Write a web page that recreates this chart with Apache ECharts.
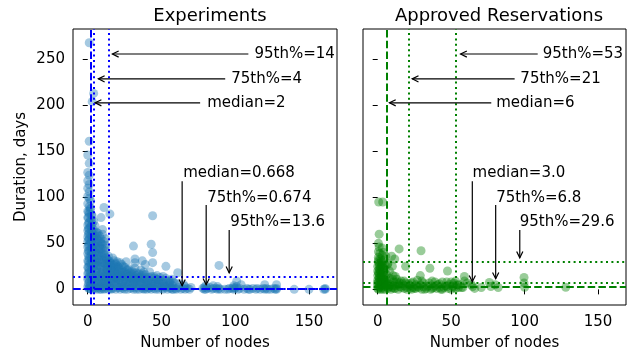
<!DOCTYPE html>
<html>
<head>
<meta charset="utf-8">
<script src="https://cdn.jsdelivr.net/npm/echarts@6/dist/echarts.min.js"></script>
<style>
  html, body { margin: 0; padding: 0; background: #fff; }
  #chart { width: 635px; height: 356px; }
</style>
</head>
<body>
<div id="chart"></div>
<script>
// values
const titles = ["Experiments", "Approved Reservations"];
const xTicks = [0, 50, 100, 150];
const yTicks = [0, 50, 100, 150, 200, 250];

// [nodes, days]
const expPoints = [
  [1,268],[4,213],[3,204],[1,161],[0,146],[1,137],[0,127],[1,124],[0,118],[1,114],[0,110],[1,106],[0,101],[1,99],
  [2,96],[0,93],[1,90],[2,88],[0,85],[1,82],[3,80],[0,78],[2,76],[4,74],[1,73],[3,71],[0,70],[5,69],[2,68],[1,66],
  [4,65],[0,64],[3,63],[6,62],[1,61],[2,59],[5,58],[0,57],[4,56],[1,55],[3,54],[7,53],[0,52],[2,51],[5,50],[1,49],
  [4,48],[8,47],[0,46],[3,45],[6,44],[2,43],[1,42],[5,41],[9,40],[0,39],[3,38],[7,37],[2,36],[4,35],[1,34],[6,33],
  [10,32],[0,31],[3,31],[8,30],[5,29],[2,28],[11,28],[1,27],[7,26],[4,25],[13,25],[0,24],[9,24],[3,23],[6,22],[15,22],
  [1,21],[11,21],[5,20],[8,19],[17,19],[2,18],[13,18],[0,17],[19,17],[6,16],[10,16],[21,16],[3,15],[15,15],[23,15],
  [1,14],[8,14],[12,13],[18,13],[25,13],[5,12],[20,12],[28,12],[0,11],[10,11],[16,11],[31,11],[3,10],[14,10],[22,10],
  [26,10],[7,9],[19,9],[33,9],[1,8],[11,8],[24,8],[29,8],[36,8],[5,7],[16,7],[21,7],[38,7],[9,6],[27,6],[31,6],[41,6],
  [2,5],[13,5],[18,5],[35,5],[44,5],[6,4],[23,4],[30,4],[47,4],[0,3],[11,3],[15,3],[26,3],[39,3],[50,3],[4,2],[8,2],
  [20,2],[33,2],[42,2],[53,2],[1,1],[12,1],[17,1],[24,1],[29,1],[37,1],[45,1],[56,1],[3,0],[6,0],[9,0],[14,0],[19,0],
  [22,0],[27,0],[31,0],[35,0],[40,0],[43,0],[48,0],[51,0],[54,0],[58,0],[60,0],[63,0],[66,0],[69,0],
  [6,55],[8,58],[10,60],[11,52],[9,50],[12,45],[7,45],[10,44],[11,38],[12,35],[8,36],[6,38],[9,55],[7,61],[10,49],
  [11,89],[15,82],[9,78],[10,65],[12,55],[12,48],[12,42],
  [13,33],[15,30],[17,34],[19,28],[14,26],[16,24],[18,22],[20,30],[14,36],[16,28],[18,31],
  [22,29],[24,25],[26,30],[28,22],[21,24],[25,19],[27,17],[23,21],[29,18],
  [30,20],[33,18],[36,21],[39,16],[42,19],[31,14],[34,13],[37,12],[40,11],[43,14],[32,23],[38,19],
  [45,12],[48,10],[51,14],[54,9],[57,11],[59,7],[46,8],[49,6],[52,5],[55,4],[47,15],
  [44,80],[31,47],[43,49],[44,40],[32,33],[32,29],[37,31],[39,27],[44,29],[53,25],[61,18],[89,26],[101,9],[99,4],
  [62,6],[65,5],[80,4],[85,4],[88,3],[104,5],[120,5],[128,5],[66,3],[70,2],[58,8],
  [79,0],[81,1],[84,0],[87,1],[90,0],[93,0],[96,1],[99,0],[100,1],[102,0],[106,0],[108,1],[110,0],[114,0],[115,1],
  [117,0],[120,0],[121,1],[124,0],[127,0],[128,1],[140,0],[150,0],[160,0],[161,0],[161,1],[79,2],[89,1],[99,2],
  // denser core
  [0.5,84],[2.5,81],[0.4,78],[2.7,75],[0.6,72],[2.3,69],[0.5,66],[2.6,63],[0.4,60],[2.5,57],[0.6,54],[2.4,51],
  [0.5,48],[2.6,45],[0.4,42],[2.5,39],[0.6,36],[2.4,33],[0.5,30],[2.6,27],[0.4,24],[2.5,21],[0.6,18],[2.4,15],
  [0.5,12],[2.6,9],[0.4,6],[2.5,3],[0.6,1],[1.5,87],[3.5,58],[3.6,44],[3.4,29],[3.5,12],[1.6,4],
  [4.5,62],[6.5,58],[8.5,52],[5.5,47],[7.5,41],[9.5,36],[4.5,33],[6.5,29],[8.5,25],[10.5,22],[5.5,19],[7.5,15],
  [9.5,12],[11.5,9],[4.5,9],[6.5,6],[8.5,3],[10.5,1],[5.5,2],[7.5,11],[9.5,18],[11.5,14],[4.5,40],[6.5,50],
  [8.5,44],[10.5,39],[11.5,33],[7.5,32],[5.5,26],[9.5,29],[10.5,6],[11.5,3],
  [13.5,29],[15.5,26],[17.5,23],[19.5,20],[13.5,21],[15.5,18],[17.5,15],[19.5,12],[21.5,10],[13.5,13],[15.5,9],
  [17.5,7],[19.5,4],[21.5,2],[13.5,6],[15.5,1],[17.5,11],[20.5,25],[22.5,19],[24.5,15],[26.5,12],[23.5,6],[25.5,8],
  [27.5,4],[22.5,13],[24.5,3],[26.5,21],[28.5,9],[14.5,31],[18.5,27],[12.5,27],[12.5,18],[12.5,7],
  [30.5,16],[32.5,12],[34.5,9],[36.5,15],[38.5,11],[40.5,8],[42.5,4],[31.5,6],[33.5,4],[35.5,13],[37.5,3],
  [39.5,6],[41.5,13],[43.5,9],[30.5,2],[34.5,17],[38.5,1],[41.5,1],
  [45.5,6],[47.5,2],[49.5,9],[51.5,7],[53.5,3],[55.5,7],[57.5,4],[46.5,11],[50.5,1],[56.5,2],[59.5,1],[61.5,2],
  [64.5,1],[67.5,1],[2,0],[5,1],[8,0],[11,0],[16,0],[25,0],[33,0],[38,0],[46,0],[57,0],
  [78,1],[80,0],[83,2],[85,1],[88,0],[95,0],[98,1],[101,3],[103,1],[109,0],[112,1],[119,1],[122,0],[126,1],[128,0],
  [13,31],[15,28],[17,26],[19,24],[21,22],[23,27],[25,24],[27,21],[29,15],[14,17],[16,15],[18,18],[20,16],[22,15],
  [24,18],[26,16],[28,14],[30,12],[13,23],[16,20],[19,14],[21,19],
  [31,18],[33,15],[35,11],[37,17],[39,13],[41,10],[43,7],[45,14],[47,11],[49,13],[51,10],[53,12],[55,9],[32,9],
  [36,6],[40,4],[44,3],[48,7],[52,3],[56,8]
];

const resPoints = [
  [0.7,95],[3.4,95],[1,60],[0.5,50],[1,46],[0.5,41],[1.5,39],[3,37],[0.5,35],[2,33],[4,31],[0.5,30],[1,28],[3,27],
  [6.6,27],[0,25],[2,24],[4,23],[1,22],[5,21],[0,20],[2,19],[3.5,18],[1,17],[6,16],[0,15],[2,14],[4,13],[1,12],[6,11],
  [0,10],[3,10],[1.5,9],[5,8],[0,7],[2.5,6],[4,5],[0,4],[1.5,3],[3,2],[0,1],[2,0],[5,0],[7,1],[8,3],[9,0],[10,2],
  [5.5,36],[7,28],[11.6,33],[10,25],[8,20],[10.5,15],[12,14],[3,45],[4,40],[2,29],[5,26],
  [7,2],[9,5],[11,1],[12,4],[14,0],[15,3],[17,6],[18,1],[20,2],[22,4],[23,0],[25,1],[26,5],[28,2],[30,0],[31,3],
  [33,1],[35,4],[36,0],[38,2],[40,1],[41,5],[43,0],[45,2],[46,4],[48,1],[50,0],[51,3],[53,1],[55,2],[54,5],[52,7],
  [44,8],[37,9],[27,10],[16,9],[13,8],[19,7],[10,11],[24,8],[6,6],[3,4],[1,2],
  [14.6,44],[29.5,42],[9.5,36],[19,25],[35.5,23],[47.5,20],[29,15],[50,8],[59,14],[59,9],[64.6,3],[63.7,5],[61,7],
  [70.5,2],[76,7.5],[77,3],[80,5],[82,2],[99.6,13],[99.6,7],[100,2.3],[128,2.2],[66,1],[58,2],
  // denser core
  [0.5,32],[2.5,31],[1,26],[3,22],[0.5,18],[2.5,16],[4.5,15],[1,13],[3,11],[5,10],[0.5,8],[2,7],[4,7],[6,4],
  [1,5],[3,6],[5,3],[0.5,0],[3.5,0],[2.5,12],[4,19],[1.5,21],[3,25],
  [8,6],[10,4],[12,1],[14,5],[16,2],[18,4],[20,0],[21,6],[24,2],[27,3],[29,5],[32,0],[34,3],[37,1],[39,4],
  [42,2],[44,0],[47,3],[49,5],[52,2],[11,8],[15,7],[23,7],[31,7],[39,8],[8,12],[13,11],[18,9],[22,1],[26,1],
  [30,9],[35,7],[42,6],[47,8],[53,9],[56,5],[57,2]
];

// reference lines: dashed = median, dotted = 75th / 95th percentile
const expVLines = { dashed: [2], dotted: [4, 14] };
const expHLines = { dashed: [0.668], dotted: [0.674, 13.6] };
const resVLines = { dashed: [6], dotted: [21, 53] };
const resHLines = { dashed: [3.0], dotted: [6.8, 29.6] };

// annotations: text, text anchor [x, y] (left, middle), arrow [tailX, tailY, tipX, tipY]
const expNoteText = ["95th%=14", "75th%=4", "median=2", "median=0.668", "75th%=0.674", "95th%=13.6"];
const expNoteAt = [[113, 255.8], [97.3, 228.8], [81, 202.8], [64.7, 126.3], [81, 99.2], [96.7, 73.3]];
const expArrows = [
  [108.9, 255.8, 16.7, 255.8], [93.2, 228.8, 7.2, 228.8], [76.2, 202.8, 5, 202.8],
  [64, 117.6, 64, 4], [80.3, 91.7, 80.3, 5.1], [95.9, 64.6, 95.9, 18]
];
const resNoteText = ["95th%=53", "75th%=21", "median=6", "median=3.0", "75th%=6.8", "95th%=29.6"];
const resNoteAt = [[112.3, 255.8], [97.1, 228.8], [80.7, 202.8], [64.6, 126.3], [80.7, 99.2], [96.7, 73.3]];
const resArrows = [
  [108.9, 255.8, 56.4, 255.8], [93.2, 228.8, 23.5, 228.8], [77.3, 202.8, 8, 202.8],
  [64.4, 117.6, 64.4, 8.3], [80.3, 91.7, 80.3, 11.6], [96.7, 64.6, 96.7, 34.3]
];

const FONT = "DejaVu Sans";
const DASHED = [7.5, 3.2];
const DOTTED = [2, 3.4];

function refLines(v, h, color) {
  let data = [];
  v.dashed.forEach(x => data.push({ xAxis: x, lineStyle: { type: DASHED } }));
  v.dotted.forEach(x => data.push({ xAxis: x, lineStyle: { type: DOTTED } }));
  h.dashed.forEach(y => data.push({ yAxis: y, lineStyle: { type: DASHED } }));
  h.dotted.forEach(y => data.push({ yAxis: y, lineStyle: { type: DOTTED } }));
  return {
    silent: true,
    symbol: ["none", "none"],
    label: { show: false },
    lineStyle: { color: color, width: 2, opacity: 1 },
    emphasis: { disabled: true },
    animation: false,
    data: data
  };
}

function arrowSeries(idx, arrows) {
  return {
    type: "custom",
    xAxisIndex: idx, yAxisIndex: idx,
    z: 10,
    silent: true,
    data: arrows,
    renderItem: function (params, api) {
      let a = api.coord([api.value(0), api.value(1)]);
      let b = api.coord([api.value(2), api.value(3)]);
      let ang = Math.atan2(b[1] - a[1], b[0] - a[0]);
      let L = 7, W = 0.46;
      let p1 = [b[0] - L * Math.cos(ang - W), b[1] - L * Math.sin(ang - W)];
      let p2 = [b[0] - L * Math.cos(ang + W), b[1] - L * Math.sin(ang + W)];
      return {
        type: "group",
        children: [
          { type: "line", shape: { x1: a[0], y1: a[1], x2: b[0], y2: b[1] }, style: { stroke: "#000", lineWidth: 1.2 } },
          { type: "polyline", shape: { points: [p1, b, p2] }, style: { stroke: "#000", lineWidth: 1.2, fill: null } }
        ]
      };
    }
  };
}

function noteSeries(idx, at, texts) {
  return {
    type: "custom",
    xAxisIndex: idx, yAxisIndex: idx,
    z: 10,
    silent: true,
    clip: false,
    data: at,
    renderItem: function (params, api) {
      let p = api.coord([api.value(0), api.value(1)]);
      return {
        type: "text",
        x: p[0], y: p[1],
        style: {
          text: texts[params.dataIndex],
          fill: "#000",
          font: "15px " + FONT,
          align: "left",
          verticalAlign: "middle"
        }
      };
    }
  };
}

function xAx(idx) {
  return {
    gridIndex: idx, type: "value", min: -10, max: 169,
    name: "Number of nodes", nameLocation: "middle", nameGap: 31,
    nameTextStyle: { fontSize: 15, color: "#000", fontFamily: FONT },
    axisLine: { show: false },
    splitLine: { show: false },
    axisTick: { show: true, length: 5, lineStyle: { color: "#000", width: 1 }, customValues: xTicks },
    axisLabel: { fontSize: 15, color: "#000", fontFamily: FONT, margin: 10, customValues: xTicks }
  };
}

function yAx(idx, showLabels) {
  let ax = {
    gridIndex: idx, type: "value", min: -17, max: 283,
    axisLine: { show: false },
    splitLine: { show: false },
    axisTick: { show: true, length: 5, lineStyle: { color: "#000", width: 1 }, customValues: yTicks },
    axisLabel: { show: showLabels, fontSize: 15, color: "#000", fontFamily: FONT, margin: 8, customValues: yTicks }
  };
  if (showLabels) {
    ax.name = "Duration, days";
    ax.nameLocation = "middle";
    ax.nameGap = 44;
    ax.nameTextStyle = { fontSize: 15, color: "#000", fontFamily: FONT };
  }
  return ax;
}

let myChart = echarts.init(document.getElementById("chart"));
let option = {
  animation: false,
  backgroundColor: "#fff",
  textStyle: { fontFamily: FONT },
  title: [
    { text: titles[0], left: 205, top: 2, textAlign: "center", textStyle: { fontSize: 18, fontWeight: "normal", color: "#000", fontFamily: FONT } },
    { text: titles[1], left: 494, top: 2, textAlign: "center", textStyle: { fontSize: 18, fontWeight: "normal", color: "#000", fontFamily: FONT } }
  ],
  grid: [
    { left: 73, top: 29, width: 264, height: 277, show: true, borderColor: "#000", borderWidth: 1 },
    { left: 363, top: 29, width: 263, height: 277, show: true, borderColor: "#000", borderWidth: 1 }
  ],
  xAxis: [xAx(0), xAx(1)],
  yAxis: [yAx(0, true), yAx(1, false)],
  series: [
    {
      name: titles[0], type: "scatter", xAxisIndex: 0, yAxisIndex: 0,
      symbolSize: 9, data: expPoints,
      itemStyle: { color: "#1f77b4", opacity: 0.4 }
    },
    {
      name: titles[1], type: "scatter", xAxisIndex: 1, yAxisIndex: 1,
      symbolSize: 9, data: resPoints,
      itemStyle: { color: "#008000", opacity: 0.4 }
    },
    { type: "line", xAxisIndex: 0, yAxisIndex: 0, data: [], z: 5, markLine: refLines(expVLines, expHLines, "#0000ff") },
    { type: "line", xAxisIndex: 1, yAxisIndex: 1, data: [], z: 5, markLine: refLines(resVLines, resHLines, "#008000") },
    arrowSeries(0, expArrows),
    arrowSeries(1, resArrows),
    noteSeries(0, expNoteAt, expNoteText),
    noteSeries(1, resNoteAt, resNoteText)
  ]
};
myChart.setOption(option);
</script>
</body>
</html>
